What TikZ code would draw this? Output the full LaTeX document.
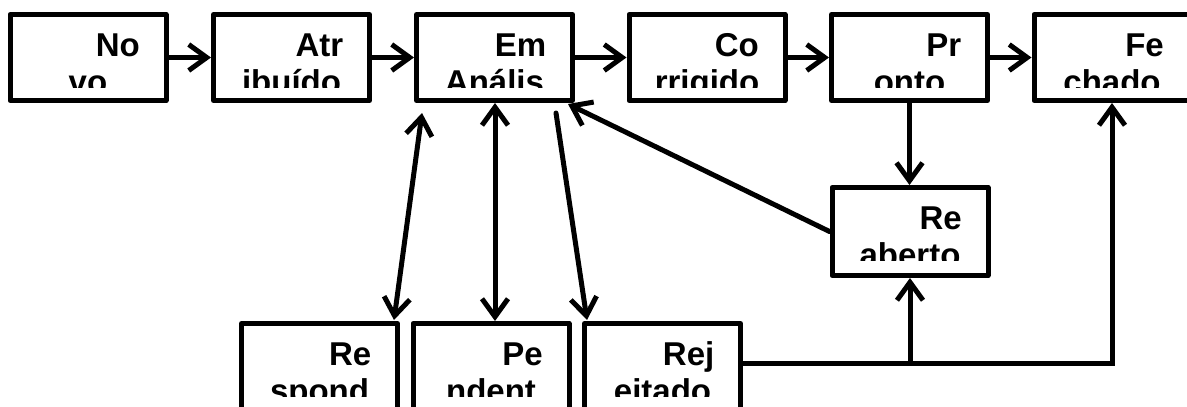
\documentclass[tikz,border=0pt]{standalone}
\usepackage{fontspec}
\setmainfont{Liberation Sans}
\usetikzlibrary{arrows.meta,calc}
\tikzset{
  stbox/.style={draw, line width=5pt, line join=round, minimum width=156pt, minimum height=86pt, inner sep=0pt, fill=white},
  tallbox/.style={stbox, minimum height=92pt},
  lbl/.style={inner sep=0pt, font=\fontsize{33}{38}\selectfont\bfseries},
  conn/.style={line width=5pt, line cap=round, -{Straight Barb[length=18pt,width=26pt]}},
  dconn/.style={line width=5pt, line cap=round, {Straight Barb[length=18pt,width=26pt]}-{Straight Barb[length=18pt,width=26pt]}},
}
% name, centre x, top y, style, first line, second line
\newcommand{\stnode}[6]{%
  \node[#4, anchor=north] (#1) at (#2,#3) {};
  \begin{scope}
    \clip ({#2-76},{#3+3}) rectangle ({#2+76},{#3+75});
    \node[lbl, anchor=base east] at ({#2+52},{#3+44}) {#5};
    \node[lbl, anchor=base] at ({#2},{#3+81.6}) {#6};
  \end{scope}
}
\begin{document}
\begin{tikzpicture}[x=1pt,y=-1pt]
\useasboundingbox (0,0) rectangle (1187,407);
\fill[white] (0,0) rectangle (1187,407);
\stnode{novo}{88}{12}{stbox}{No}{vo}
\stnode{atr}{291.5}{12}{stbox}{Atr}{ibuído}
\stnode{em}{494.5}{12}{stbox}{Em}{Anális}
\stnode{cor}{707}{12}{stbox}{Co}{rrigido}
\stnode{pr}{909.5}{12}{stbox}{Pr}{onto}
\stnode{fe}{1112}{12}{stbox}{Fe}{chado}
\stnode{reab}{910}{185}{stbox, minimum height=88pt}{Re}{aberto}
\stnode{resp}{319.5}{321}{tallbox}{Re}{spond}
\stnode{pend}{491}{321}{tallbox}{Pe}{ndent}
\stnode{rej}{662.5}{321}{tallbox}{Rej}{eitado}

\draw[conn] (novo) -- (atr);
\draw[conn] (atr) -- (em);
\draw[conn] (em) -- (cor);
\draw[conn] (cor) -- (pr);
\draw[conn] (pr) -- (fe);
\draw[conn] (pr.south) -- (pr.south |- reab.north);
\draw[conn] (reab.west) -- ([xshift=-7pt,yshift=-1pt]em.south east);
\draw[dconn] ([xshift=8pt,yshift=-10pt]em.south west) -- ([xshift=-6pt,yshift=1pt]resp.north east);
\draw[dconn] (em.south -| 495,0) -- (495,0 |- pend.north);
\draw[conn] ([xshift=-19pt,yshift=-10pt]em.south east) -- ([xshift=5pt,yshift=1pt]rej.north west);
\coordinate (j) at (reab.south |- 0,363);
\draw[conn] (rej.east |- j) -| (fe.south);
\draw[conn] (j) -- (reab.south);
\end{tikzpicture}
\end{document}
